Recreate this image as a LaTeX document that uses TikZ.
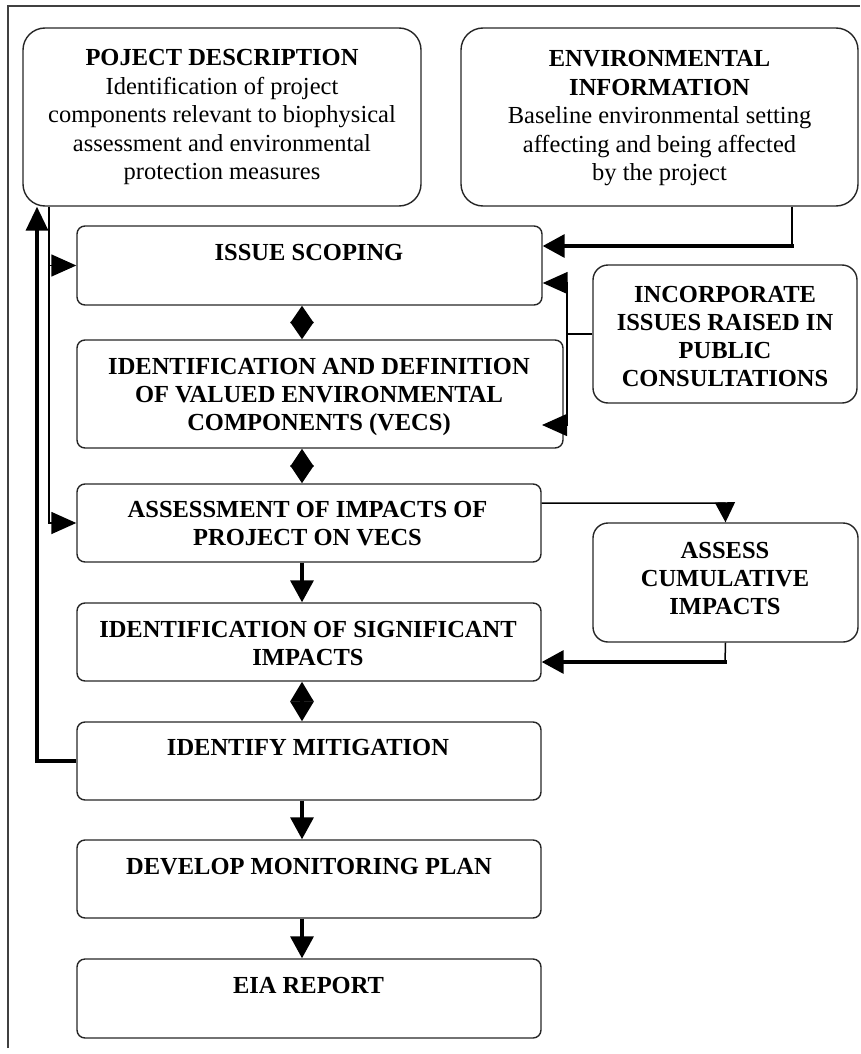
\documentclass[tikz,border=0pt]{standalone}
\usepackage{fontspec}
\setmainfont{Liberation Serif}
\usetikzlibrary{arrows.meta}
\begin{document}
\begin{tikzpicture}[x=1pt,y=-1pt,
  box/.style={draw=black!85, line width=1.4pt, rounded corners=8pt, inner sep=0pt},
  big/.style={box, rounded corners=22pt},
  side/.style={box, rounded corners=15pt},
  txt/.style={font=\fontsize{24.5}{28.5}\selectfont, align=center, inner sep=0pt, text=black},
  bt/.style={align=center, inner sep=0pt, text=black, font=\fontsize{24.5}{28}\selectfont\bfseries},
  thk/.style={line width=3.5pt, draw=black},
  thn/.style={line width=1.5pt, draw=black},
  frm/.style={line width=2pt, draw=black!75},
  ah/.style={-{Triangle[length=22pt,width=23pt]}},
  ahl/.style={-{Triangle[length=25pt,width=22pt]}},
  dia/.style={{Triangle[length=#1,width=23pt]}-{Triangle[length=#1,width=23pt]}},
 ]
\useasboundingbox (0,0) rectangle (860,1054);
% frame
\coordinate (fA) at (8,1048);
\coordinate (fB) at (8,6);
\coordinate (fC) at (860,6);
\draw[frm] (fA) -- (fB) -- (fC);

% boxes
\node[big, minimum width=398pt, minimum height=178pt] (pd) at (222,117) {};
\node[big, minimum width=397pt, minimum height=178pt] (ei) at (659.5,117) {};
\node[box, minimum width=465pt, minimum height=79pt] (is) at (309.5,265.5) {};
\node[box, minimum width=486pt, minimum height=108pt] (vec) at (320,394) {};
\node[box, minimum width=464pt, minimum height=78pt] (as) at (309,523) {};
\node[box, minimum width=464pt, minimum height=78pt] (sig) at (309,642) {};
\node[box, minimum width=464pt, minimum height=78pt] (mit) at (309,761) {};
\node[box, minimum width=464pt, minimum height=78pt] (dev) at (309,879) {};
\node[box, minimum width=464pt, minimum height=79pt] (eia) at (309,998.5) {};
\node[side, minimum width=264pt, minimum height=138pt] (inc) at (725,334) {};
\node[side, minimum width=265pt, minimum height=119pt] (cum) at (725.5,582.5) {};

% texts
\node[txt] (pdt) at (222,117.4) {\textbf{POJECT DESCRIPTION}\\Identification of project\\components relevant to biophysical\\assessment and environmental\\protection measures};
\node[txt] (eit) at (659.5,118.4) {\textbf{ENVIRONMENTAL}\\\textbf{INFORMATION}\\Baseline environmental setting\\affecting and being affected\\by the project};
\node[bt] (ist) at (309,253) {ISSUE SCOPING};
\node[bt] (vect) at (319,397) {IDENTIFICATION AND DEFINITION\\OF VALUED ENVIRONMENTAL\\COMPONENTS (VECS)};
\node[bt] (ast) at (307.5,523.5) {ASSESSMENT OF IMPACTS OF\\PROJECT ON VECS};
\node[bt] (sigt) at (308,644) {IDENTIFICATION OF SIGNIFICANT\\IMPACTS};
\node[bt] (mitt) at (308,747) {IDENTIFY MITIGATION};
\node[bt] (devt) at (309,867) {DEVELOP MONITORING PLAN};
\node[bt] (eiat) at (308.5,985) {EIA REPORT};
\node[bt] (inct) at (725,336.5) {INCORPORATE\\ISSUES RAISED IN\\PUBLIC\\CONSULTATIONS};
\node[bt] (cumt) at (725,578.5) {ASSESS\\CUMULATIVE\\IMPACTS};

% helper coordinates
\coordinate (cx) at (302,0);
\coordinate (fb) at (37,0);
\coordinate (lx) at (49,0);
\coordinate (e1) at (792,246);
\coordinate (t1) at (567,283);
\coordinate (t2) at (567,425);
\coordinate (t3) at (542,425);
\coordinate (a1) at (725,503);
\coordinate (c1) at (725,662);

% main column connectors
\draw[thk, dia=17.5pt] (is.south -| cx) -- (vec.north -| cx);
\draw[thk, dia=18pt] (vec.south -| cx) -- (as.north -| cx);
\draw[thk, ah] (as.south -| cx) -- (sig.north -| cx);
\draw[thk, dia=20pt] (sig.south -| cx) -- (mit.north -| cx);
\draw[thk, ah] (mit.south -| cx) -- (dev.north -| cx);
\draw[thk, ah] (dev.south -| cx) -- (eia.north -| cx);

% feedback to project description
\draw[thk, -{Triangle[length=24pt,width=22pt]}] (mit.west) -- (mit.west -| fb) -- (fb |- pd.south);
% project description to scoping and assessment
\draw[thn, ahl] (pd.south -| lx) |- (as.west);
\draw[thn, ahl] (lx |- is.west) -- (is.west);

% environmental information to scoping
\draw[thn] (ei.south -| e1) -- (e1);
\draw[thk, ah, line cap=rect] (e1) -- (is.east |- e1);

% public consultations
\draw[thn] (inc.west) -- (inc.west -| t1);
\draw[thn, {Triangle[length=25pt,width=22pt]}-{Triangle[length=25pt,width=22pt]}] (is.east |- t1) -- (t1) -- (t2) -- (t3);

% cumulative impacts
\draw[thn, -{Triangle[length=20pt,width=20pt]}] (as.east |- a1) -- (a1) -- (cum.north);
\draw[thn] (cum.south) -- (c1);
\draw[thk, ah, line cap=rect] (c1) -- (sig.east |- c1);
\end{tikzpicture}
\end{document}
